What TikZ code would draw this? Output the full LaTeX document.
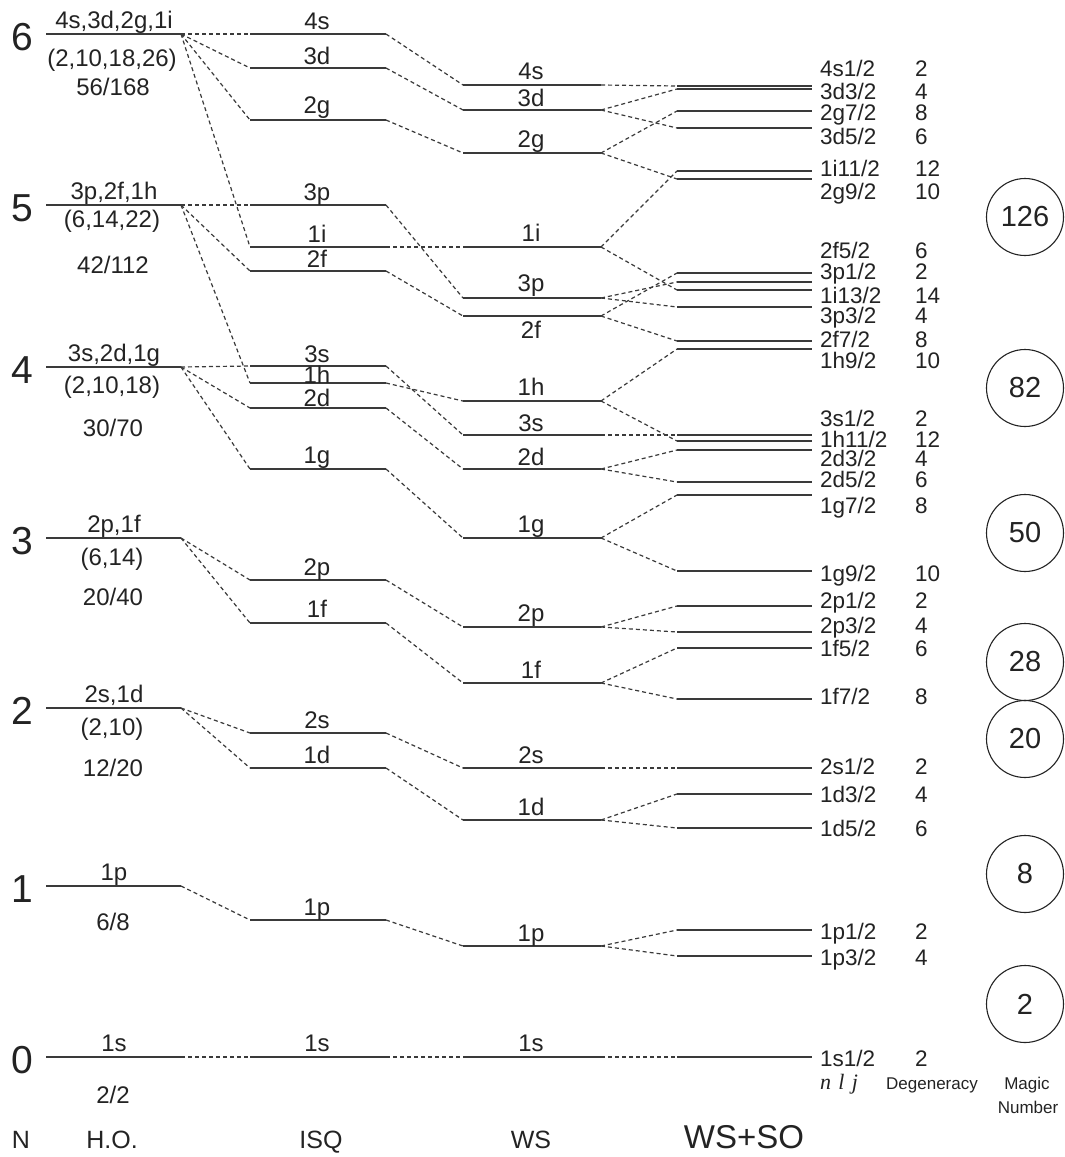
\documentclass[tikz,border=0pt]{standalone}
\usepackage{fontspec}
\setsansfont{Liberation Sans}
\newfontfamily\nljfont{Liberation Serif}
\usetikzlibrary{calc}
\definecolor{Ink}{HTML}{232323}
\definecolor{Rule}{HTML}{3A3A3A}

\begin{document}
\begin{tikzpicture}[x=1pt,y=-1pt,
    level/.style={Rule,line width=1.6pt},
    conn/.style={Rule,line width=1.2pt,dash pattern=on 4pt off 3pt},
    lbl/.style={text=Ink,font=\sffamily\fontsize{24}{26}\selectfont,inner sep=0pt,anchor=base},
    solbl/.style={lbl,font=\sffamily\fontsize{22.5}{24}\selectfont,anchor=base west},
    bignum/.style={text=Ink,font=\sffamily\fontsize{39}{42}\selectfont,inner sep=0pt},
    magic/.style={circle,draw=Ink,line width=1.1pt,minimum size=77pt,inner sep=0pt,
                  text=Ink,font=\sffamily\fontsize{29}{31}\selectfont},
    axis/.style={text=Ink,font=\sffamily\fontsize{25}{27}\selectfont,inner sep=0pt,anchor=base},
    small/.style={text=Ink,font=\sffamily\fontsize{17}{19}\selectfont,inner sep=0pt,anchor=base}]
  \fill[white] (0,0) rectangle (1065,1157);
  \useasboundingbox (0,0) rectangle (1065,1157);

  % harmonic oscillator shells
  \foreach \N/\y/\sh/\yb/\ml/\yc/\fa/\fb in {
      6/34/{4s,3d,2g,1i}/66/{(2,10,18,26)}/95/56/168,
      5/205/{3p,2f,1h}/227/{(6,14,22)}/273/42/112,
      4/367/{3s,2d,1g}/393/{(2,10,18)}/436/30/70,
      3/538/{2p,1f}/565/{(6,14)}/605/20/40,
      2/708/{2s,1d}/735/{(2,10)}/776/12/20,
      1/886/{1p}/886/{}/930/6/8,
      0/1057/{1s}/1057/{}/1103/2/2}{
    \draw[level] (46,\y) coordinate (ho\N-l) -- (181,\y) coordinate (ho\N-r);
    \node[bignum] (N\N) at (22,\y+3) {\N};
    \node[lbl] (ho\N-sub) at (114,\y-6) {\sh};
    \node[lbl] (ho\N-ml) at (112,\yb) {\ml};
    \node[lbl] (ho\N-cnt) at (113,\yc) {\fa/\fb};
  }

  % ISQ
  \foreach \n/\y/\b in {4s/34/29,3d/68/64,2g/120/113,3p/205/200,1i/247/242,2f/271/267,
      3s/366/362,1h/383/383,2d/408/406,1g/469/463,2p/580/575,1f/623/617,
      2s/733/728,1d/768/763,1p/920/915,1s/1057/1051}{
    \draw[level] (250,\y) coordinate (isq\n-l) -- (386,\y) coordinate (isq\n-r);
    \node[lbl] (isq\n) at (317,\b) {\n};
  }

  % Woods-Saxon
  \foreach \n/\y/\b in {4s/85/79,3d/110/106,2g/153/147,1i/247/241,3p/298/291,
      2f/316/338,1h/401/395,3s/435/431,2d/469/465,1g/538/532,2p/627/621,
      1f/683/678,2s/768/763,1d/820/815,1p/946/941,1s/1057/1051}{
    \draw[level] (463,\y) coordinate (ws\n-l) -- (601,\y) coordinate (ws\n-r);
    \node[lbl] (ws\n) at (531,\b) {\n};
  }

  % Woods-Saxon + spin-orbit
  \foreach \n/\y/\b/\d in {4s1/86/76/2,3d3/89/99/4,2g7/111/120/8,3d5/128/144/6,
      1i11/171/176/12,2g9/179/199/10,2f5/273/258/6,3p1/282/279/2,1i13/290/303/14,
      3p3/307/323/4,2f7/341/347/8,1h9/349/368/10,3s1/435/426/2,1h11/441/447/12,
      2d3/450/466/4,2d5/482/487/6,1g7/495/513/8,1g9/571/581/10,2p1/606/608/2,
      2p3/632/633/4,1f5/648/656/6,1f7/699/704/8,2s1/768/774/2,1d3/794/802/4,
      1d5/828/836/6,1p1/930/939/2,1p3/956/965/4,1s1/1057/1066/2}{
    \draw[level] (677,\y) coordinate (so\n-l) -- (812,\y);
    \node[solbl] (so\n) at (820,\b) {\n/2};
    \node[solbl] (dg\n) at (915,\b) {\d};
  }

  % connectors
  \foreach \a/\b in {6/4s,6/3d,6/2g,6/1i,5/3p,5/2f,5/1h,4/3s,4/2d,4/1g,
      3/2p,3/1f,2/2s,2/1d,1/1p,0/1s}
    \draw[conn] (ho\a-r) -- (isq\b-l);
  \foreach \n in {4s,3d,2g,1i,3p,2f,1h,3s,2d,1g,2p,1f,2s,1d,1p,1s}
    \draw[conn] (isq\n-r) -- (ws\n-l);
  \foreach \a/\b in {4s/4s1,3d/3d3,3d/3d5,2g/2g7,2g/2g9,1i/1i11,1i/1i13,
      3p/3p1,3p/3p3,2f/2f5,2f/2f7,1h/1h9,1h/1h11,3s/3s1,2d/2d3,2d/2d5,
      1g/1g7,1g/1g9,2p/2p1,2p/2p3,1f/1f5,1f/1f7,2s/2s1,1d/1d3,1d/1d5,
      1p/1p1,1p/1p3,1s/1s1}
    \draw[conn] (ws\a-r) -- (so\b-l);

  % magic numbers
  \foreach \m/\y in {126/217,82/388,50/533,28/662,20/739,8/874,2/1004}
    \node[magic] (mg\m) at (1025,\y) {\m};

  % column titles
  \node[text=Ink,font=\nljfont\itshape\fontsize{22}{24}\selectfont,inner sep=0pt,anchor=base]
       (nlj) at (839,1089) {n\,\,l\,\,j};
  \node[small] (hdeg) at (932,1089) {Degeneracy};
  \node[small] (hmag) at (1027,1089) {Magic};
  \node[small] (hnum) at (1028,1113) {Number};
  \node[axis] (tN) at (21,1148) {N};
  \node[axis] (tho) at (112,1148) {H.O.};
  \node[axis] (tisq) at (321,1148) {ISQ};
  \node[axis] (tws) at (531,1148) {WS};
  \node[axis,font=\sffamily\fontsize{33}{35}\selectfont] (twsso) at (744,1148) {WS+SO};
\end{tikzpicture}
\end{document}
